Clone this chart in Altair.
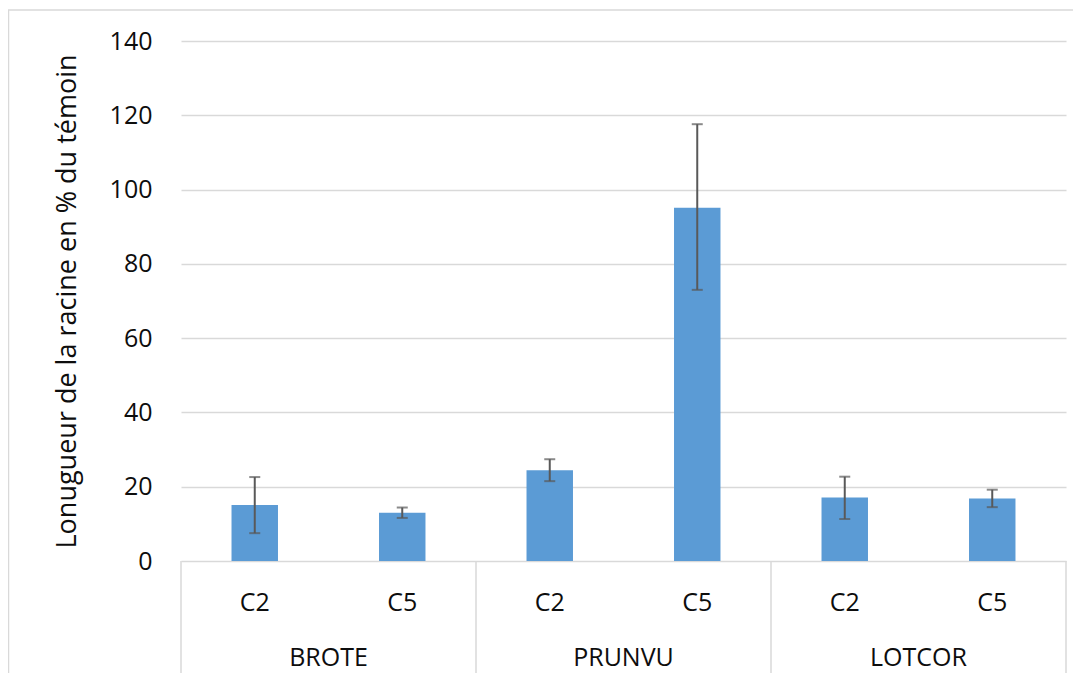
import altair as alt
import pandas as pd

groups = ["BROTE", "BROTE", "PRUNVU", "PRUNVU", "LOTCOR", "LOTCOR"]
subs = ["C2", "C5", "C2", "C5", "C2", "C5"]
means = [15.1, 13.0, 24.4, 95.1, 17.1, 16.8]
lower = [7.5, 11.6, 21.5, 73.0, 11.3, 14.5]
upper = [22.6, 14.4, 27.4, 117.6, 22.7, 19.2]
group_names = ["BROTE", "PRUNVU", "LOTCOR"]
y_ticks = [0, 20, 40, 60, 80, 100, 120, 140]

keys = [g + "|" + s for g, s in zip(groups, subs)]
df = pd.DataFrame({"key": keys, "group": groups, "sub": subs,
                   "mean": means, "lower": lower, "upper": upper})
first_keys = [g + "|C2" for g in group_names]
df_groups = pd.DataFrame({"key": first_keys, "group": group_names})
df_end = pd.DataFrame({"key": [keys[-1]]})
df_frame = pd.DataFrame({"a": [0]})

FONT = "Open Sans"
TXT = "#0d0d0d"
GRID = "#d9d9d9"

xscale = alt.Scale(domain=keys, paddingInner=0, paddingOuter=0)
yscale = alt.Scale(domain=[0, 140], nice=False)


def xenc(band=0.5):
    return alt.X("key:N", scale=xscale, sort=keys, axis=None, title=None, bandPosition=band)


base = alt.Chart(df)

bars = base.mark_bar(color="#5b9bd5", width=alt.RelativeBandSize(0.315)).encode(
    x=alt.X("key:N", scale=xscale, sort=keys, axis=None, title=None),
    y=alt.Y("mean:Q", scale=yscale,
            title="Lonugueur de la racine en % du témoin",
            axis=alt.Axis(values=y_ticks, domain=False, ticks=False,
                          labelPadding=29, labelFontSize=25, labelFont=FONT,
                          labelColor=TXT, gridColor=GRID, gridWidth=1.5,
                          titleFont=FONT, titleFontSize=27, titleFontWeight="normal",
                          titleColor=TXT, titleAngle=-90, titleX=-106,
                          titleBaseline="alphabetic")),
)

err = base.mark_rule(color="#595959", strokeWidth=2).encode(
    x=xenc(),
    y=alt.Y("lower:Q", scale=yscale),
    y2="upper:Q",
)
cap_hi = base.mark_tick(color="#595959", orient="horizontal", size=11, thickness=2).encode(
    x=xenc(),
    y=alt.Y("upper:Q", scale=yscale),
)
cap_lo = base.mark_tick(color="#595959", orient="horizontal", size=11, thickness=2).encode(
    x=xenc(),
    y=alt.Y("lower:Q", scale=yscale),
)

sub_text = base.mark_text(
    font=FONT, fontSize=25, color=TXT, baseline="middle", align="center"
).encode(
    x=xenc(),
    y=alt.value(562),
    text="sub:N",
)

group_text = alt.Chart(df_groups).mark_text(
    font=FONT, fontSize=25, color=TXT, baseline="middle", align="center"
).encode(
    x=xenc(1),
    y=alt.value(617),
    text="group:N",
)

dividers = alt.Chart(df_groups).mark_rule(color=GRID, strokeWidth=1.5).encode(
    x=xenc(0),
    y=alt.value(520),
    y2=alt.value(700),
)
divider_end = alt.Chart(df_end).mark_rule(color=GRID, strokeWidth=1.5).encode(
    x=xenc(1),
    y=alt.value(520),
    y2=alt.value(700),
)

frame = alt.Chart(df_frame).mark_rect(fill=None, stroke=GRID, strokeWidth=1.5).encode(
    x=alt.value(-172.5), x2=alt.value(950),
    y=alt.value(-31), y2=alt.value(720),
)

chart = alt.layer(frame, dividers, divider_end, bars, err, cap_hi, cap_lo,
                  sub_text, group_text).properties(
    width=885, height=520,
    autosize=alt.AutoSizeParams(type="none"),
    padding={"left": 173, "top": 33, "right": 7, "bottom": 112},
    background="white",
).configure_view(stroke=None)

chart.save("out.html", embed_options={"renderer": "svg", "actions": False})
